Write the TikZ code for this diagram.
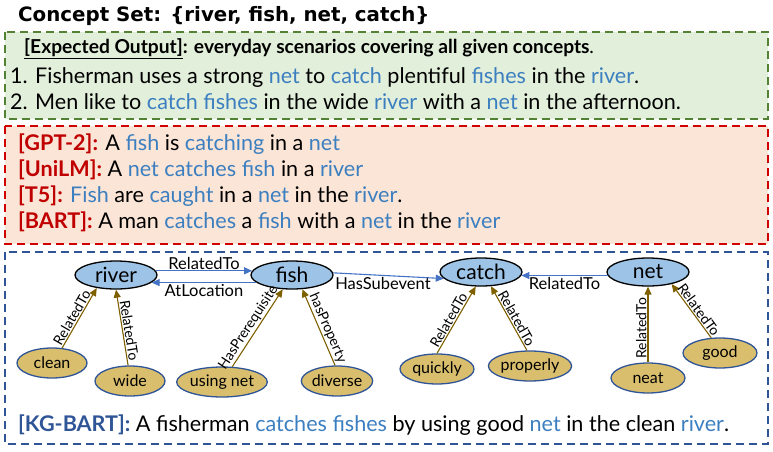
\documentclass[tikz,border=0pt]{standalone}
\usepackage{fontspec}
\setmainfont{Lato}
\newfontfamily\titlefont{DejaVu Sans}
\usetikzlibrary{arrows.meta,shapes.geometric,positioning}

\definecolor{greenfill}{HTML}{E2EFDA}
\definecolor{greenline}{HTML}{548235}
\definecolor{redfill}{HTML}{FBE5D6}
\definecolor{redline}{HTML}{D00000}
\definecolor{blueline}{HTML}{2F5597}
\definecolor{conceptblue}{HTML}{9DC3E6}
\definecolor{attrgold}{HTML}{D9BE6E}
\definecolor{attrbrown}{HTML}{7F6000}
\definecolor{relblue}{HTML}{4472C4}
\definecolor{wordblue}{HTML}{3C7FC0}
\definecolor{modelred}{HTML}{C00000}
\definecolor{kgblue}{HTML}{2F5597}

\newcommand{\kw}[1]{\textcolor{wordblue}{#1}}
\newcommand{\model}[1]{\textcolor{modelred}{\bfseries #1}}

\tikzset{
  panel/.style={dash pattern=on 8pt off 5pt, line width=2pt},
  line/.style={anchor=base west, inner sep=0pt, font=\fontsize{21.6}{24}\selectfont},
  concept/.style={ellipse, draw=black, line width=1.3pt, fill=conceptblue,
    minimum width=82pt, minimum height=28pt, inner sep=0pt,
    font=\fontsize{21}{24}\selectfont},
  attr/.style={ellipse, draw=blueline, line width=1.3pt, fill=attrgold,
    minimum width=70pt, minimum height=30pt, inner sep=0pt,
    font=\fontsize{16}{18}\selectfont},
  rel/.style={draw=relblue, line width=1.1pt, -{Triangle[length=8pt,width=7pt]}},
  attrrel/.style={draw=attrbrown, line width=1.1pt, -{Triangle[length=8pt,width=7pt]}},
  rellabel/.style={font=\fontsize{16.5}{18}\selectfont, inner sep=1pt},
  attrlabel/.style={font=\fontsize{14}{16}\selectfont, sloped, above, inner sep=1pt, pos=0.45},
}

\begin{document}
\begin{tikzpicture}[x=1pt,y=-1pt]
\useasboundingbox (0,0) rectangle (773,452);

% concept set
\node[anchor=base west, inner sep=0pt, font=\titlefont\bfseries\fontsize{19.8}{22}\selectfont]
  (title) at (18,22) {Concept Set: \{river, fish, net, catch\}};

% panels
\draw[panel, draw=greenline, fill=greenfill] (5,32) rectangle (768,119);
\draw[panel, draw=redline, fill=redfill] (5,126) rectangle (768,244);
\draw[panel, draw=blueline] (5,252) rectangle (768,444);

% expected output
\node[line, font=\bfseries\fontsize{19.2}{22}\selectfont] (exp) at (24,54)
  {\underline{[Expected Output]}: everyday scenarios covering all given concepts\mdseries.};
\node[line] (ref1) at (10,83)
  {1. Fisherman uses a strong \kw{net} to \kw{catch} plentiful \kw{fishes} in the \kw{river}.};
\node[line] (ref2) at (10,109)
  {2. Men like to \kw{catch fishes} in the wide \kw{river} with a \kw{net} in the afternoon.};

% baselines
\node[line] (gpt) at (18,150)
  {\model{[GPT-2]:} A \kw{fish} is \kw{catching} in a \kw{net}};
\node[line] (unilm) at (18,176)
  {\model{[UniLM]:} A \kw{net catches fish} in a \kw{river}};
\node[line] (tfive) at (18,202)
  {\model{[T5]:} \kw{Fish} are \kw{caught} in a \kw{net} in the \kw{river}.};
\node[line] (bart) at (18,228)
  {\model{[BART]:} A man \kw{catches} a \kw{fish} with a \kw{net} in the \kw{river}};

% knowledge graph
\node[concept] (river) at (116,275) {river};
\node[concept] (fish) at (292,275) {fish};
\node[concept] (catch) at (481,272) {catch};
\node[concept] (net) at (648,272) {net};

\node[attr] (clean) at (52,363) {clean};
\node[attr] (wide) at (130,381) {wide};
\node[attr, minimum width=84pt] (using) at (222,382) {using net};
\node[attr] (diverse) at (337,381) {diverse};
\node[attr, minimum width=74pt] (quickly) at (437,369) {quickly};
\node[attr, minimum width=74pt] (properly) at (530,366) {properly};
\node[attr, minimum width=74pt] (neat) at (648,378) {neat};
\node[attr, minimum width=74pt] (good) at (720,353) {good};

\draw[rel] (river.6) -- node[rellabel, above] {RelatedTo} (fish.174);
\draw[rel] (fish.192) -- node[rellabel, below] {AtLocation} (river.-12);
\draw[rel] (fish.3) -- node[rellabel, below, pos=0.45] {HasSubevent} (catch.190);
\draw[rel] (net.185) -- node[rellabel, below] {RelatedTo} (catch.-5);

\draw[attrrel] (clean.56) -- node[attrlabel] {RelatedTo} (river.214);
\draw[attrrel] (wide.97) -- node[attrlabel] {RelatedTo} (river.270);
\draw[attrrel] (using.56) -- node[attrlabel] {HasPrerequisite} (fish.237);
\draw[attrrel] (diverse.97) -- node[attrlabel] {hasProperty} (fish.306);
\draw[attrrel] (quickly.90) -- node[attrlabel] {RelatedTo} (catch.250);
\draw[attrrel] (properly.101) -- node[attrlabel] {RelatedTo} (catch.305);
\draw[attrrel] (neat.90) -- node[attrlabel] {RelatedTo} (net.270);
\draw[attrrel] (good.120) -- node[attrlabel] {RelatedTo} (net.333);

% kg-bart output
\node[line] (kgbart) at (18,431)
  {\textcolor{kgblue}{\bfseries [KG-BART]:} A fisherman \kw{catches fishes} by using good \kw{net} in the clean \kw{river}.};
\end{tikzpicture}
\end{document}
